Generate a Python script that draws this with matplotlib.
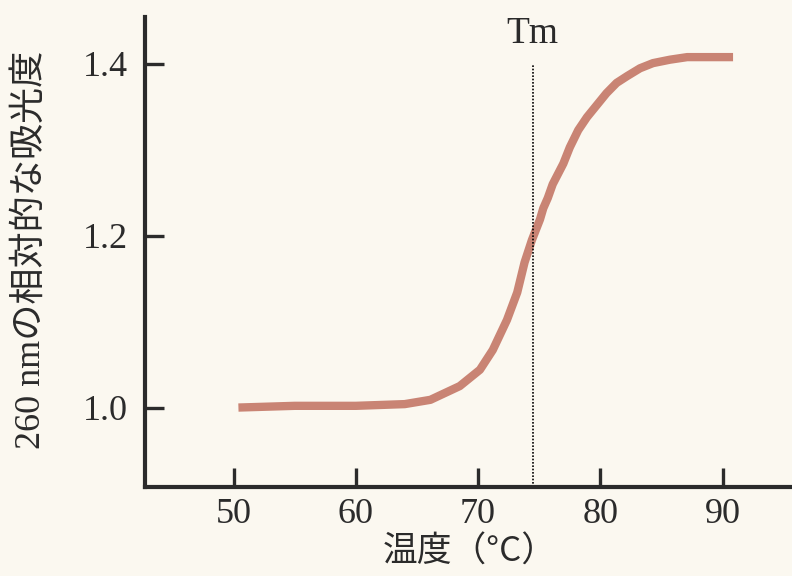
import matplotlib
matplotlib.use("Agg")
import matplotlib.pyplot as plt

# Data
temp = [50.4, 55.0, 60.0, 64.0, 66.1, 68.5, 70.15, 71.2, 72.36, 73.2, 73.8, 74.4,
        75.06, 75.33, 75.7, 76.1, 76.97, 77.5, 78.19, 78.9, 79.7, 80.5, 81.33, 82.2,
        83.24, 84.3, 85.69, 87.1, 90.85]
absorb = [1.000, 1.002, 1.002, 1.004, 1.009, 1.025, 1.044, 1.067, 1.102, 1.134, 1.169, 1.195,
          1.219, 1.232, 1.244, 1.260, 1.284, 1.303, 1.323, 1.338, 1.352, 1.366, 1.378, 1.386,
          1.395, 1.401, 1.405, 1.408, 1.408]
tm = 74.45
xticks = [50, 60, 70, 80, 90]
yticks = [1.0, 1.2, 1.4]
ytick_labels = ["1.0", "1.2", "1.4"]

bg = "#FBF8F0"
curve_color = "#C98474"
ink = "#2B2B2B"
serif_jp = ["Liberation Serif", "Noto Sans CJK JP"]

fig = plt.figure(figsize=(7.92, 5.76), dpi=100, facecolor=bg)
ax = fig.add_axes([145/792, (576-487)/576, (792-145)/792, (487-17)/576])
ax.set_facecolor(bg)

ax.plot(temp, absorb, color=curve_color, lw=6, solid_capstyle="butt",
        solid_joinstyle="round")
ax.vlines(tm, 0.9075, 1.4, colors="black", linestyles=(0, (1, 1)), lw=1.2)
ax.text(tm, 1.424, "Tm", ha="center", va="baseline", fontsize=27,
        family="Liberation Serif", color=ink)

ax.set_xlim(42.76, 95.67)
ax.set_ylim(0.9075, 1.4547)
ax.set_xticks(xticks)
ax.set_yticks(yticks)
ax.set_yticklabels(ytick_labels)

for s in ["top", "right"]:
    ax.spines[s].set_visible(False)
for s in ["left", "bottom"]:
    ax.spines[s].set_linewidth(3)
    ax.spines[s].set_color(ink)

ax.tick_params(direction="in", length=14, width=2.4, color=ink, labelcolor=ink,
               labelsize=26)
ax.tick_params(axis="y", pad=12)
ax.tick_params(axis="x", pad=8)
for lab in ax.get_xticklabels() + ax.get_yticklabels():
    lab.set_family("Liberation Serif")

ax.set_ylabel("260 nmの相対的な吸光度", family=serif_jp, fontsize=26, color=ink)
ax.yaxis.set_label_coords(-(145 - 31) / 647, (487 - 250) / 470)
ax.set_xlabel("温度（°C）", family=["Noto Sans CJK JP", "Liberation Serif"], fontsize=25,
              color=ink)
ax.xaxis.set_label_coords((470 - 145) / 647, -(552 - 487) / 470)
ax.xaxis.label.set_va("center")
ax.yaxis.label.set_va("center")

fig.savefig("out.png", dpi=100, facecolor=bg)
